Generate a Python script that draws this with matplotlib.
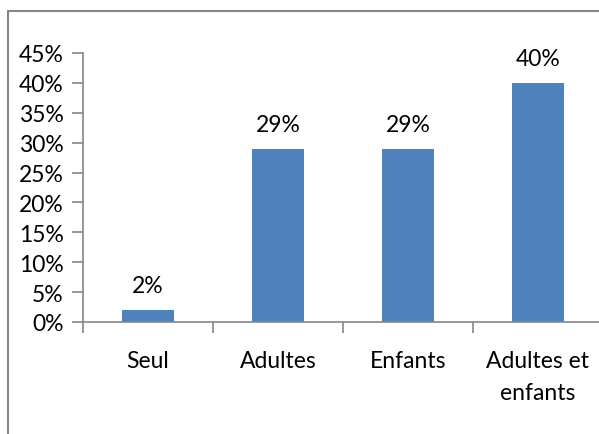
import matplotlib
matplotlib.use("Agg")
import matplotlib.pyplot as plt
from matplotlib.patches import Rectangle
from matplotlib.ticker import PercentFormatter, FixedLocator

categories = ["Seul", "Adultes", "Enfants", "Adultes et\nenfants"]
values = [0.02, 0.29, 0.29, 0.40]
labels = ["2%", "29%", "29%", "40%"]
yticks = [0, 0.05, 0.10, 0.15, 0.20, 0.25, 0.30, 0.35, 0.40, 0.45]

plt.rcParams['font.family'] = ['Lato', 'DejaVu Sans']
W, H = 599, 435
fig = plt.figure(figsize=(W / 100, H / 100), dpi=100)
ax = fig.add_axes([83 / W, (H - 323) / H, 520 / W, 269 / H])

gray = '#868686'
fs = 16.5
x = list(range(len(categories)))
ax.bar(x, values, width=0.4, color='#4F81BD')
for xi, v, lab in zip(x, values, labels):
    ax.annotate(lab, (xi, v), xytext=(0, 10), textcoords='offset points',
                ha='center', va='bottom', fontsize=fs, color='black')

ax.set_xlim(-0.5, len(categories) - 0.5)
ax.set_ylim(0, 0.45)
ax.set_yticks(yticks)
ax.yaxis.set_major_formatter(PercentFormatter(1.0, decimals=0))
ax.set_xticks(x)
ax.set_xticklabels(categories, fontsize=fs, linespacing=1.65)
ax.xaxis.set_minor_locator(FixedLocator([i + 0.5 for i in range(-1, len(categories))]))
ax.tick_params(axis='x', which='major', length=0, pad=20)
ax.tick_params(axis='x', which='minor', length=8, color=gray, width=1.2, direction='out')
ax.tick_params(axis='y', length=8, color=gray, width=1.2, labelsize=fs, pad=6)
for s in ['top', 'right']:
    ax.spines[s].set_visible(False)
for s in ['left', 'bottom']:
    ax.spines[s].set_color(gray)
    ax.spines[s].set_linewidth(1.2)

fig.patches.append(Rectangle((8 / W, -0.1), 1.2, (H - 12) / H + 0.1,
                             transform=fig.transFigure, fill=False,
                             edgecolor=gray, linewidth=1.5))

fig.savefig('out.png', dpi=100)
